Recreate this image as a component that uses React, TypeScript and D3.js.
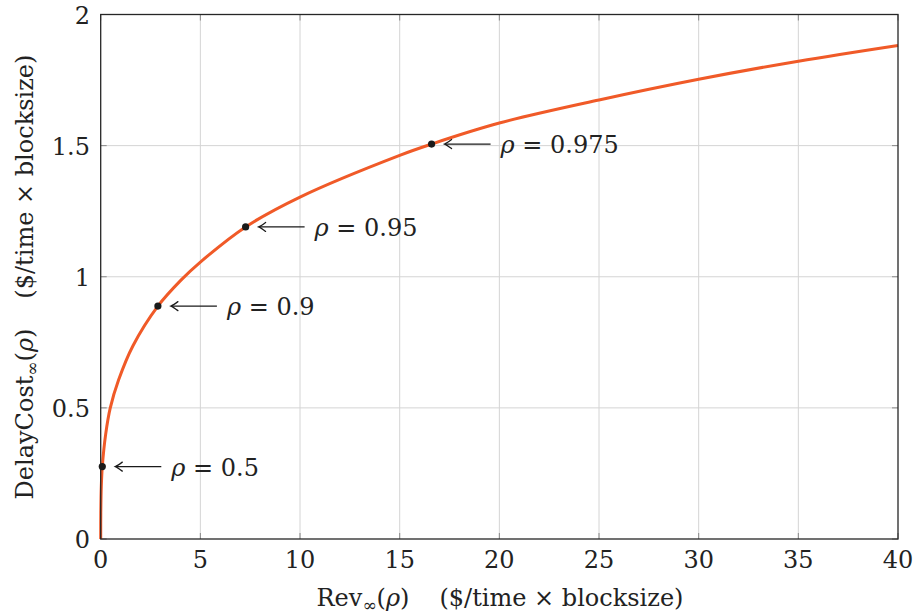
import React from 'react';
import * as d3 from 'd3';

// curve: revenue (x) vs delay cost (y)
const revValues = [0, 0.005, 0.03, 0.08, 0.25, 0.48, 0.9, 1.62, 2.87, 4.04, 5, 7.27, 10, 15, 16.6, 20, 25, 30, 35, 40];
const delayValues = [0, 0.1, 0.2, 0.276, 0.4, 0.5, 0.607, 0.737, 0.888, 0.988, 1.056, 1.19, 1.304, 1.463, 1.506, 1.586, 1.674, 1.753, 1.822, 1.882];

// marked points
const markerRho = ['0.5', '0.9', '0.95', '0.975'];
const markerRev = [0.08, 2.87, 7.27, 16.6];
const markerDelay = [0.276, 0.888, 1.19, 1.506];

const xTicks = [0, 5, 10, 15, 20, 25, 30, 35, 40];
const yTicks = [0, 0.5, 1, 1.5, 2];
const yTickLabels = ['0', '0.5', '1', '1.5', '2'];

const W = 913;
const H = 615;
const FONT = 'DejaVu Serif';
const FS = 24;

export default function App() {
  const x = d3.scaleLinear().domain([0, 40]).range([100.7, 898]);
  const y = d3.scaleLinear().domain([0, 2]).range([539, 14.5]);

  const pts: [number, number][] = revValues.map((r, i) => [r, delayValues[i]]);
  const line = d3.line<[number, number]>()
    .x(d => x(d[0]))
    .y(d => y(d[1]))
    .curve(d3.curveCatmullRom.alpha(0.5));

  const [x0, x1] = x.range();
  const [y0, y1] = y.range();

  return (
    <svg width={W} height={H} fontFamily={FONT} style={{ position: 'absolute', left: 0, top: 0, background: '#fff' }}>
      {/* grid */}
      {xTicks.slice(1, -1).map(t => (
        <line key={'gx' + t} x1={x(t)} x2={x(t)} y1={y0} y2={y1} stroke="#d4d4d4" strokeWidth={1} />
      ))}
      {yTicks.slice(1, -1).map(t => (
        <line key={'gy' + t} x1={x0} x2={x1} y1={y(t)} y2={y(t)} stroke="#d4d4d4" strokeWidth={1} />
      ))}
      {/* inner ticks */}
      {xTicks.map(t => (
        <g key={'tx' + t} stroke="#8a8a8a" strokeWidth={1}>
          <line x1={x(t)} x2={x(t)} y1={y0} y2={y0 - 6} />
          <line x1={x(t)} x2={x(t)} y1={y1} y2={y1 + 6} />
        </g>
      ))}
      {yTicks.map(t => (
        <g key={'ty' + t} stroke="#8a8a8a" strokeWidth={1}>
          <line x1={x0} x2={x0 + 6} y1={y(t)} y2={y(t)} />
          <line x1={x1} x2={x1 - 6} y1={y(t)} y2={y(t)} />
        </g>
      ))}

      {/* curve */}
      <path d={line(pts) || ''} fill="none" stroke="#f05a28" strokeWidth={3} strokeLinejoin="round" />

      {/* frame */}
      <rect x={x0} y={y1} width={x1 - x0} height={y0 - y1} fill="none" stroke="#262626" strokeWidth={1.3} />

      {/* tick labels */}
      {xTicks.map(t => (
        <text key={'lx' + t} x={x(t)} y={568} fontSize={FS} textAnchor="middle" fill="#222">{t}</text>
      ))}
      {yTicks.map((t, i) => (
        <text key={'ly' + t} x={90} y={y(t) + 9} fontSize={FS} textAnchor="end" fill="#222">{yTickLabels[i]}</text>
      ))}

      {/* markers with arrows */}
      {markerRho.map((r, i) => {
        const cx = x(markerRev[i]);
        const cy = y(markerDelay[i]);
        const tip = cx + 13;
        return (
          <g key={'m' + r}>
            <circle cx={cx} cy={cy} r={3.6} fill="#1a1a1a" />
            <line x1={tip + 1} x2={cx + 59} y1={cy} y2={cy} stroke="#1a1a1a" strokeWidth={1.3} />
            <path
              d={`M${tip + 7},${cy - 4.5} Q${tip + 2},${cy - 0.8} ${tip},${cy} Q${tip + 2},${cy + 0.8} ${tip + 7},${cy + 4.5}`}
              fill="none" stroke="#1a1a1a" strokeWidth={1.3} strokeLinecap="round"
            />
            <text x={cx + 69} y={cy + 9} fontSize={FS} fill="#222">
              <tspan fontStyle="italic">ρ</tspan>
              <tspan> = {r}</tspan>
            </text>
          </g>
        );
      })}

      {/* axis labels */}
      <text x={500} y={606} fontSize={FS} textAnchor="middle" fill="#222">
        <tspan>Rev</tspan>
        <tspan fontSize={17} dy={5}>∞</tspan>
        <tspan dy={-5}>(</tspan>
        <tspan fontStyle="italic">ρ</tspan>
        <tspan>)</tspan>
        <tspan dx={30}>($/time × blocksize)</tspan>
      </text>
      <text transform={`translate(33, 277) rotate(-90)`} fontSize={FS} textAnchor="middle" fill="#222">
        <tspan>DelayCost</tspan>
        <tspan fontSize={17} dy={5}>∞</tspan>
        <tspan dy={-5}>(</tspan>
        <tspan fontStyle="italic">ρ</tspan>
        <tspan>)</tspan>
        <tspan dx={30}>($/time × blocksize)</tspan>
      </text>
    </svg>
  );
}
